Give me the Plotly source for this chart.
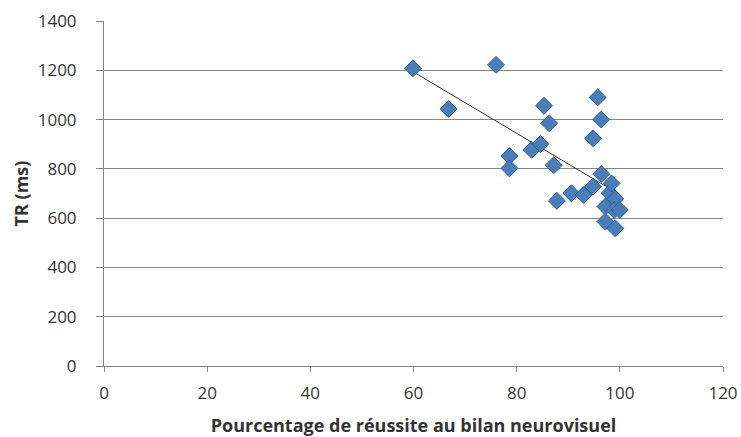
import numpy as np
import plotly.graph_objects as go

# pourcentage de réussite (%) / temps de réaction (ms)
pct = [59.9, 66.8, 76.0, 78.6, 78.6, 82.9, 84.6, 85.3, 86.3, 87.2, 87.8,
       90.6, 93.0, 94.8, 94.8, 95.7, 96.4, 96.4, 97.2, 97.2, 98.0, 98.4,
       99.1, 98.9, 100.0, 99.1]
tr = [1208, 1043, 1222, 852, 802, 877, 901, 1056, 985, 815, 670,
      701, 694, 924, 728, 1090, 1000, 779, 647, 586, 701, 741,
      678, 633, 633, 559]

x_ticks = [0, 20, 40, 60, 80, 100, 120]
y_ticks = [0, 200, 400, 600, 800, 1000, 1200, 1400]

# courbe de tendance linéaire (comme dans Excel)
slope, icpt = np.polyfit(pct, tr, 1)
trend_x = [min(pct), max(pct)]
trend_y = [slope * v + icpt for v in trend_x]

fig = go.Figure()
fig.add_trace(go.Scatter(x=trend_x, y=trend_y, mode="lines",
                         line=dict(color="#2b2b2b", width=1), showlegend=False))
fig.add_trace(go.Scatter(
    x=pct, y=tr, mode="markers", showlegend=False,
    marker=dict(symbol="diamond", size=13, color="#4a7ebb",
                line=dict(color="#2c5d96", width=1))
))

font = "Open Sans, Noto Sans, sans-serif"
fig.update_layout(
    width=741, height=437,
    margin=dict(l=104, r=18, t=21, b=71),
    paper_bgcolor="white", plot_bgcolor="white",
    font=dict(family=font, size=17, color="#333"),
)
fig.update_xaxes(
    range=[0, 120], tickvals=x_ticks, showgrid=False,
    showline=True, linecolor="#868686", linewidth=1,
    ticks="outside", ticklen=5, tickcolor="#868686",
    ticklabelstandoff=7, zeroline=False, automargin=False,
    title=dict(text="<b>Pourcentage de réussite au bilan neurovisuel</b>",
               font=dict(size=18), standoff=16),
)
fig.update_yaxes(
    range=[0, 1400], tickvals=y_ticks, showgrid=True,
    gridcolor="#868686", gridwidth=1,
    showline=True, linecolor="#868686", linewidth=1,
    ticks="outside", ticklen=7, tickcolor="#868686",
    ticklabelstandoff=16, zeroline=False, automargin=False,
    title=dict(text="<b>TR (ms)</b>", font=dict(size=18), standoff=4),
)

# pas de marge autour du graphique dans la page
fig.write_html("out.html", config={"displayModeBar": False},
               post_script="document.body.style.margin = '0';")
